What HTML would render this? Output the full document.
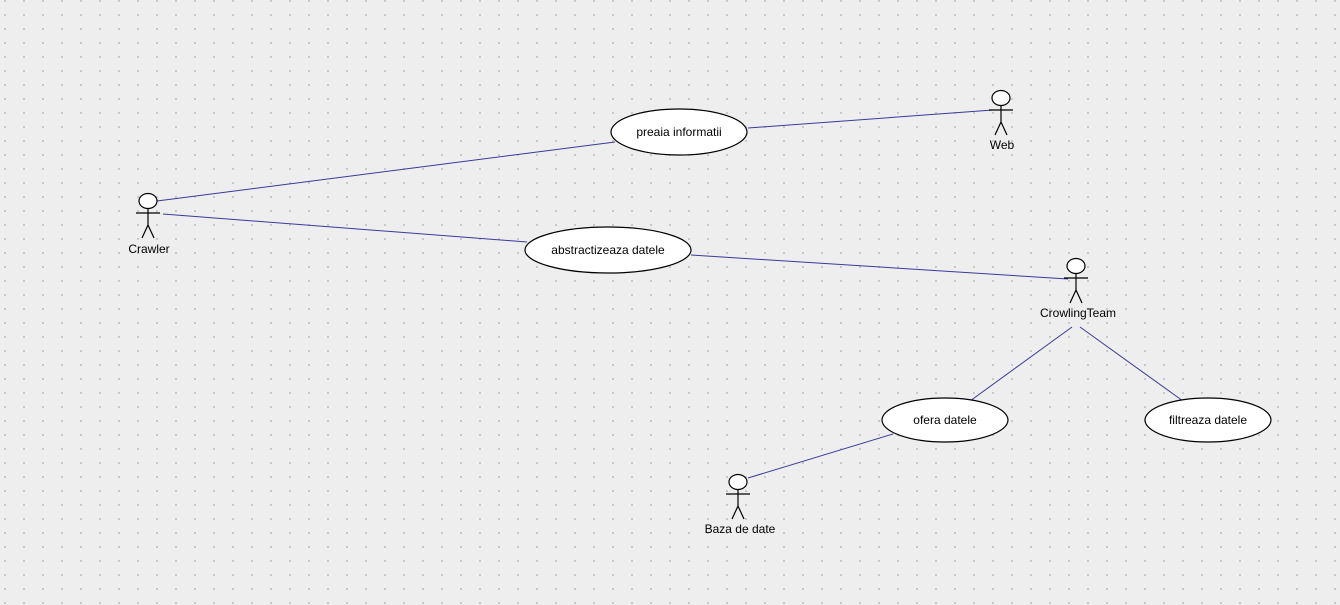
<!DOCTYPE html>
<html><head><style>
html,body{margin:0;padding:0;}
body{width:1340px;height:605px;overflow:hidden;background:#eeeeee;}
svg{display:block}
text{font-family:"Liberation Sans",sans-serif;font-size:12px;fill:#000;text-anchor:middle}
</style></head><body>
<svg width="1340" height="605" xmlns="http://www.w3.org/2000/svg">
<defs>
<pattern id="g" width="19" height="14" patternUnits="userSpaceOnUse" x="4" y="0">
<rect x="0" y="0" width="2" height="2" fill="#c8c8c8"/>
</pattern>
<g id="actor" stroke="#000" stroke-width="1.2" fill="none">
<ellipse cx="0" cy="0" rx="9" ry="7.5" fill="#fff"/>
<line x1="0" y1="7.5" x2="0" y2="24"/>
<line x1="-12" y1="12" x2="12" y2="12"/>
<line x1="0" y1="24" x2="-6" y2="37"/>
<line x1="0" y1="24" x2="6" y2="37"/>
</g>
</defs>
<rect width="1340" height="605" fill="url(#g)"/>
<g stroke="#3a3a9a" stroke-width="1">
<line x1="157" y1="201" x2="615" y2="142"/>
<line x1="748" y1="128" x2="993" y2="110"/>
<line x1="163" y1="214" x2="527" y2="242"/>
<line x1="691" y1="255" x2="1068" y2="279"/>
<line x1="1072" y1="327" x2="970" y2="401"/>
<line x1="1080" y1="327" x2="1183" y2="401"/>
<line x1="748" y1="478" x2="893" y2="434"/>
</g>
<g fill="#fff" stroke="#000" stroke-width="1.2">
<ellipse cx="679" cy="132" rx="68" ry="23"/>
<ellipse cx="608" cy="250" rx="83" ry="23"/>
<ellipse cx="945" cy="420" rx="63" ry="22"/>
<ellipse cx="1208" cy="420" rx="63" ry="22"/>
</g>
<text x="679" y="136">preaia informatii</text>
<text x="608" y="254">abstractizeaza datele</text>
<text x="945" y="424">ofera datele</text>
<text x="1208" y="424">filtreaza datele</text>
<use href="#actor" x="148" y="201"/>
<use href="#actor" x="1001" y="98"/>
<use href="#actor" x="1076" y="266"/>
<use href="#actor" x="738" y="482"/>
<text x="149" y="253">Crawler</text>
<text x="1002" y="149">Web</text>
<text x="1078" y="317">CrowlingTeam</text>
<text x="740" y="533">Baza de date</text>
</svg>
</body></html>
